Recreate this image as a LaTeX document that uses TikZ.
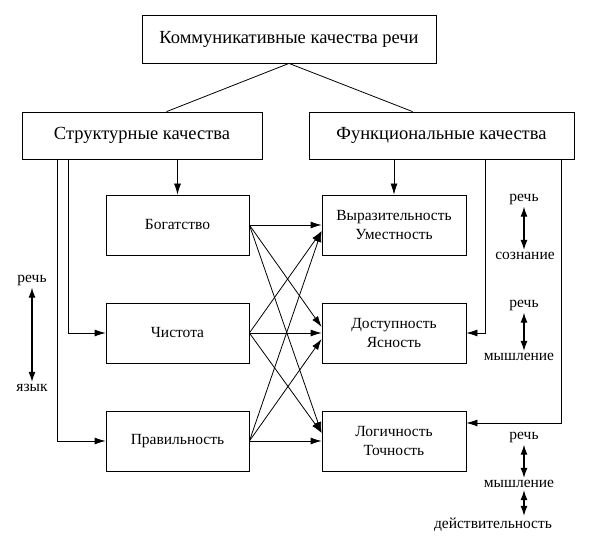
\documentclass[tikz,border=0pt]{standalone}
\usepackage{fontspec}
\setmainfont{Liberation Serif}
\usetikzlibrary{arrows.meta,calc}
\begin{document}
\begin{tikzpicture}[x=1pt,y=-1pt,line width=0.8pt,
  bigbox/.style={draw,minimum height=47pt,inner sep=0pt,font=\fontsize{18.5}{22}\selectfont},
  smallbox/.style={draw,minimum width=143pt,minimum height=60pt,inner sep=0pt,align=center,font=\fontsize{15.5}{19}\selectfont},
  lbl/.style={inner sep=2pt,font=\fontsize{15.5}{18}\selectfont},
  arr/.style={-{Latex[length=11pt,width=7pt]}},
  darr/.style={line width=1.1pt,{Latex[length=10pt,width=7pt]}-{Latex[length=10pt,width=7pt]}}]
\useasboundingbox (0,0) rectangle (589,540);
\node[bigbox,minimum width=294pt,minimum height=48pt] (top) at (289,39) {Коммуникативные качества речи};
\node[bigbox,minimum width=240pt] (struct) at (142,135.5) {Структурные качества};
\node[bigbox,minimum width=265pt] (func) at (441.5,135.5) {Функциональные качества};
\node[smallbox] (bog) at (177.5,225) {Богатство};
\node[smallbox] (chi) at (177.5,333) {Чистота};
\node[smallbox] (pra) at (177.5,441) {Правильность};
\node[smallbox,minimum width=144pt] (vyr) at (394,225) {Выразительность\\Уместность};
\node[smallbox,minimum width=144pt] (dos) at (394,333) {Доступность\\Ясность};
\node[smallbox,minimum width=144pt] (log) at (394,441) {Логичность\\Точность};
% top links
\draw (top.south) -- ($(struct.north west)+(145,0)$);
\draw (top.south) -- ($(func.north west)+(104,0)$);
% structural links
\draw[arr] (struct.south -| bog.north) -- (bog.north);
\draw[arr] ($(struct.south west)+(47,0)$) |- (chi.west);
\draw[arr] ($(struct.south west)+(36,0)$) |- (pra.west);
% functional links
\draw[arr] (func.south -| vyr.north) -- (vyr.north);
\draw[arr] ($(func.south west)+(177,0)$) |- (dos.east);
\draw[arr] ($(func.south west)+(253,0)$) |- ($(log.east)+(0,-18)$);
% crossing links
\draw[arr] (bog.east) -- (vyr.west);
\draw[arr] (bog.east) -- ($(dos.west)+(0,-6)$);
\draw[arr] (bog.east) -- ($(log.west)+(0,-8)$);
\draw[arr] (chi.east) -- ($(vyr.west)+(0,6)$);
\draw[arr] (chi.east) -- (dos.west);
\draw[arr] (chi.east) -- ($(log.west)+(0,-8)$);
\draw[arr] (pra.east) -- ($(vyr.west)+(0,6)$);
\draw[arr] (pra.east) -- ($(dos.west)+(0,6)$);
\draw[arr] (pra.east) -- (log.west);
% side labels
\node[lbl] (l1) at (32,280) {речь};
\node[lbl] (l2) at (32,388) {язык};
\draw[darr] (l1.south) -- (l2.north);
\node[lbl] (r1) at (524,199) {речь};
\node[lbl] (r2) at (525,256) {сознание};
\draw[darr] (r1.south) -- (r1.south |- r2.north);
\node[lbl] (r3) at (524,305) {речь};
\node[lbl] (r4) at (519,357) {мышление};
\draw[darr] (r3.south) -- (r3.south |- r4.north);
\node[lbl] (r5) at (524,437) {речь};
\node[lbl] (r6) at (519,484) {мышление};
\node[lbl] (r7) at (493,525) {действительность};
\draw[darr] (r5.south) -- (r5.south |- r6.north);
\draw[darr] (r5.south |- r6.south) -- (r5.south |- r7.north);
\end{tikzpicture}
\end{document}
